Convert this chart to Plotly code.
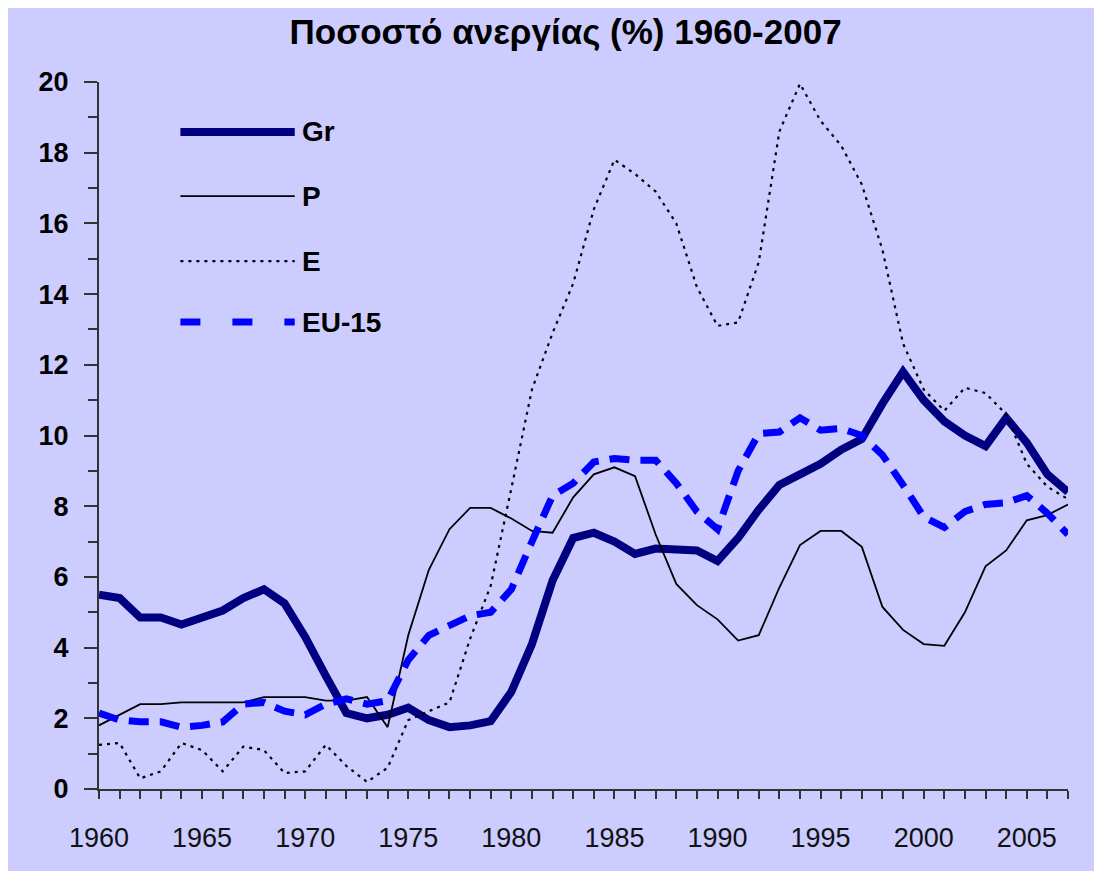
import plotly.graph_objects as go

years = list(range(1960, 2008))

gr = [5.5, 5.4, 4.85, 4.85, 4.65, 4.85, 5.05, 5.4, 5.65, 5.25,
      4.3, 3.2, 2.15, 2.0, 2.1, 2.3, 1.95, 1.75, 1.8, 1.92,
      2.75, 4.1, 5.9, 7.1, 7.25, 7.0, 6.65, 6.8, 6.8, 6.75,
      6.45, 7.1, 7.9, 8.6, 8.9, 9.2, 9.6, 9.9, 10.9, 11.8,
      11.0, 10.4, 10.0, 9.7, 10.5, 9.8, 8.9, 8.4]

pt = [1.8, 2.1, 2.4, 2.4, 2.45, 2.45, 2.45, 2.45, 2.6, 2.6,
      2.6, 2.5, 2.5, 2.6, 1.75, 4.35, 6.2, 7.35, 7.95, 7.95,
      7.65, 7.3, 7.25, 8.25, 8.9, 9.1, 8.85, 7.2, 5.8, 5.2,
      4.8, 4.2, 4.35, 5.7, 6.9, 7.3, 7.3, 6.85, 5.15, 4.5,
      4.1, 4.05, 5.0, 6.3, 6.75, 7.6, 7.75, 8.05]

es = [1.25, 1.3, 0.3, 0.5, 1.3, 1.1, 0.5, 1.2, 1.1, 0.45,
      0.5, 1.25, 0.65, 0.2, 0.6, 1.95, 2.2, 2.45, 4.25, 5.75,
      8.5, 11.3, 12.9, 14.3, 16.4, 17.8, 17.4, 16.9, 16.0, 14.2,
      13.1, 13.2, 14.9, 18.6, 19.95, 18.9, 18.2, 17.1, 15.25, 12.6,
      11.3, 10.7, 11.35, 11.2, 10.6, 9.2, 8.55, 8.2]

eu15 = [2.15, 1.95, 1.9, 1.9, 1.75, 1.8, 1.9, 2.4, 2.45, 2.2,
        2.1, 2.4, 2.55, 2.4, 2.5, 3.65, 4.35, 4.65, 4.9, 5.0,
        5.65, 7.0, 8.3, 8.65, 9.25, 9.35, 9.3, 9.3, 8.65, 7.85,
        7.35, 9.0, 10.05, 10.1, 10.5, 10.15, 10.2, 10.0, 9.45, 8.6,
        7.7, 7.4, 7.85, 8.05, 8.1, 8.3, 7.8, 7.2]

series_names = ["Gr", "P", "E", "EU-15"]
title_text = "Ποσοστό ανεργίας (%) 1960-2007"

BG = "#CCCCFF"
FONT = "Liberation Sans, Arial, sans-serif"

styles = {
    "Gr": dict(color="#000080", width=8, dash="solid"),
    "P": dict(color="#000000", width=1.8, dash="solid"),
    "E": dict(color="#000000", width=2.2, dash="3px,5px"),
    "EU-15": dict(color="#0000FF", width=7, dash="20px,11px"),
}

fig = go.Figure()
for name, vals in zip(series_names, [gr, pt, es, eu15]):
    fig.add_trace(go.Scatter(x=years, y=vals, mode="lines", name=name,
                             line=styles[name], showlegend=False))

# Manual legend (long line samples as in the original)
leg_y = [0.9293, 0.8385, 0.7466, 0.6604]
for name, ly in zip(series_names, leg_y):
    st = styles[name]
    fig.add_shape(type="line", xref="paper", yref="paper",
                  x0=0.084, x1=0.202, y0=ly, y1=ly,
                  line=dict(color=st["color"], width=st["width"],
                            dash=st["dash"] if name != "EU-15" else "20px,32px"))
    fig.add_annotation(xref="paper", yref="paper", x=0.2074, y=ly,
                       text="<b>" + name + "</b>", showarrow=False,
                       xanchor="left", yanchor="middle",
                       font=dict(family=FONT, size=28, color="#000000"))

fig.update_layout(
    width=1102, height=871,
    paper_bgcolor=BG, plot_bgcolor=BG,
    margin=dict(l=91, r=42, t=74, b=90),
    title=dict(text="<b>" + title_text + "</b>", x=0.506, xanchor="center",
               y=1 - 24 / 871, yanchor="middle",
               font=dict(family=FONT, size=35, color="#000000")),
    font=dict(family=FONT, color="#000000"),
)

fig.update_xaxes(range=[1960, 2007], showgrid=False, zeroline=False,
                 showline=True, linecolor="#333333", linewidth=2,
                 ticks="outside", ticklen=8, tickwidth=2, tickcolor="#333333",
                 tick0=1960, dtick=5,
                 minor=dict(dtick=1, ticks="outside", ticklen=8,
                            tickwidth=2, tickcolor="#333333"),
                 ticklabelstandoff=16,
                 tickfont=dict(family=FONT, size=27, color="#111111"))

fig.update_yaxes(range=[0, 20], showgrid=False, zeroline=False,
                 showline=True, linecolor="#333333", linewidth=2,
                 ticks="outside", ticklen=13, tickwidth=2, tickcolor="#333333",
                 tick0=0, dtick=2,
                 minor=dict(dtick=1, ticks="outside", ticklen=9,
                            tickwidth=2, tickcolor="#333333"),
                 ticklabelstandoff=10,
                 tickfont=dict(family=FONT, size=27, color="#000000",
                               weight="bold"))

fig.write_html("out.html")
